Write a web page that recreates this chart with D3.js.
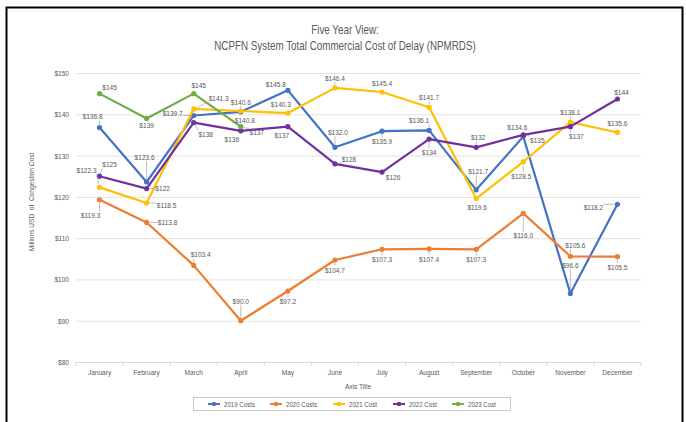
<!DOCTYPE html>
<html>
<head>
<meta charset="utf-8">
<script src="https://cdn.jsdelivr.net/npm/d3@7"></script>
<style>
  body { margin: 0; background: #fff; }
  svg { display: block; }
  text { font-family: "Liberation Sans", Arial, sans-serif; fill: #595959; }
</style>
</head>
<body>
<script>
// chart values
var months = ["January", "February", "March", "April", "May", "June", "July",
              "August", "September", "October", "November", "December"];
var seriesNames = ["2019 Costs", "2020 Costs", "2021 Cost", "2022 Cost", "2023 Cost"];
var costs2019 = [136.8, 123.6, 139.7, 140.6, 145.8, 132.0, 135.9, 136.1, 121.7, 134.6, 96.6, 118.2];
var costs2020 = [119.3, 113.8, 103.4, 90.0, 97.2, 104.7, 107.3, 107.4, 107.3, 116.0, 105.6, 105.5];
var costs2021 = [122.3, 118.5, 141.3, 140.8, 140.3, 146.4, 145.4, 141.7, 119.6, 128.5, 138.1, 135.6];
var costs2022 = [125, 122, 138, 136, 137, 128, 126, 134, 132, 135, 137, 143.7];
var costs2023 = [145, 139, 145, 137];
var yTicks = [80, 90, 100, 110, 120, 130, 140, 150];

var colors = ["#4472C4", "#ED7D31", "#FFC000", "#7030A0", "#70AD47"];
var formats = [".1f", ".1f", ".1f", ".0f", ".0f"];

// where each data label sits relative to its point (dx, dy)
var labelNudge = [
  [[-7,-11],[-2,-25],[-21,-2],[0,-10],[-12,-6],[3,-15],[0,10],[-10,-10],[2,-19],[-6,-9],[0,-28],[-24,3]],
  [[-9,15],[21,0],[7,-11],[0,-20],[0,10],[0,10],[0,10],[0,10],[0,10],[0,22],[5,-11],[0,10]],
  [[-13,-17],[20,2],[25,-11],[4,9],[-7,-9],[0,-10],[0,-9],[0,-10],[1,9],[-2,14],[0,-10],[0,-9]],
  [[10,-12],[16,0],[12,12],[-9,8],[-6,9],[14,-5],[11,5],[0,13],[2,-10],[14,5],[6,10],[4,-7]],
  [[10,-6],[0,7],[5,-8],[16,6]]
];

var allSeries = [costs2019, costs2020, costs2021, costs2022, costs2023];

// Calibri-like look: Liberation Sans squeezed horizontally (same as Arial Narrow)
var NARROW = 0.82;
function addText(parent, x, y, str, size) {
    return parent.append("text")
        .attr("transform", "translate(" + x + "," + y + ") scale(" + NARROW + ",1)")
        .style("font-size", size + "px")
        .text(str);
}

var svg = d3.select("body").append("svg")
    .attr("width", 686)
    .attr("height", 422);

// chart frame
svg.append("rect")
    .attr("x", 6.5).attr("y", 7.5)
    .attr("width", 676).attr("height", 430)
    .attr("fill", "#fff")
    .attr("stroke", "#000")
    .attr("stroke-width", 2);

var x = d3.scaleBand().domain(months).range([76, 641]);
var y = d3.scaleLinear().domain([80, 150]).range([362, 73]);
function cx(i) { return x(months[i]) + x.bandwidth() / 2; }

// title
addText(svg, 345, 34, "Five Year View:", 12).attr("text-anchor", "middle");
addText(svg, 345, 50, "NCPFN System Total Commercial Cost of Delay (NPMRDS)", 12).attr("text-anchor", "middle");

// gridlines + y labels
var yAxis = svg.append("g")
    .attr("transform", "translate(76,0)")
    .call(d3.axisLeft(y).tickValues(yTicks).tickSize(-565).tickFormat(function(d) { return "$" + d; }));
yAxis.select(".domain").remove();
yAxis.selectAll("line").attr("stroke", "#d9d9d9").attr("stroke-width", 0.8);
yAxis.selectAll("text")
    .attr("x", -7 / NARROW)
    .attr("transform", "scale(" + NARROW + ",1)")
    .style("font-size", "8px").attr("fill", "#595959");

// x axis
var xAxis = svg.append("g")
    .attr("transform", "translate(0,362)")
    .call(d3.axisBottom(x).tickSize(0).tickPadding(7));
xAxis.select(".domain").attr("stroke", "#d9d9d9");
xAxis.selectAll("text")
    .attr("transform", "scale(" + NARROW + ",1)")
    .style("font-size", "8px").attr("fill", "#595959");
svg.append("g").selectAll("line")
    .data(d3.range(13))
    .enter().append("line")
    .attr("x1", function(i) { return 76 + i * x.bandwidth(); })
    .attr("x2", function(i) { return 76 + i * x.bandwidth(); })
    .attr("y1", 362).attr("y2", 366)
    .attr("stroke", "#d9d9d9");

addText(svg, 358, 389, "Axis Title", 8).attr("text-anchor", "middle");

svg.append("text")
    .attr("transform", "translate(34,202) rotate(-90) scale(" + NARROW + ",1)")
    .attr("text-anchor", "middle")
    .style("font-size", "8px")
    .style("white-space", "pre")
    .text("Millions USD  of  Congestion Cost");

// lines and markers
var line = d3.line()
    .x(function(d, i) { return cx(i); })
    .y(function(d) { return y(d); });

allSeries.forEach(function(values, s) {
    var g = svg.append("g");
    g.append("path")
        .attr("d", line(values))
        .attr("fill", "none")
        .attr("stroke", colors[s])
        .attr("stroke-width", 2.2)
        .attr("stroke-linejoin", "round");
    g.selectAll("circle")
        .data(values)
        .enter().append("circle")
        .attr("cx", function(d, i) { return cx(i); })
        .attr("cy", function(d) { return y(d); })
        .attr("r", 2.6)
        .attr("fill", colors[s]);
});

// data labels with leader lines
var labels = svg.append("g");
var leaders = svg.append("g");
allSeries.forEach(function(values, s) {
    values.forEach(function(v, i) {
        var px = cx(i), py = y(v);
        var lx = px + labelNudge[s][i][0], ly = py + labelNudge[s][i][1];
        var t = addText(labels, lx, ly, "$" + d3.format(formats[s])(v), 8)
            .attr("dy", "0.35em")
            .attr("text-anchor", "middle");
        var b = t.node().getBBox();
        var bx = lx + b.x * NARROW, bw = b.width * NARROW;
        var by = ly + b.y, bh = b.height;
        var nx = Math.max(bx, Math.min(px, bx + bw));
        var ny = Math.max(by + 1, Math.min(py, by + bh - 1));
        var dist = Math.hypot(px - nx, py - ny);
        if (dist > 6) {
            var k = (dist - 3) / dist;
            leaders.append("line")
                .attr("x1", nx).attr("y1", ny)
                .attr("x2", nx + (px - nx) * k).attr("y2", ny + (py - ny) * k)
                .attr("stroke", "#a6a6a6")
                .attr("stroke-width", 0.75);
        }
    });
});

// legend
var legend = svg.append("g");
legend.append("rect")
    .attr("x", 193.5).attr("y", 397.5)
    .attr("width", 317).attr("height", 13)
    .attr("fill", "none")
    .attr("stroke", "#bfbfbf")
    .attr("stroke-width", 0.8);
var legendX = [208, 270, 333, 393, 452];
seriesNames.forEach(function(name, s) {
    var item = legend.append("g").attr("transform", "translate(" + legendX[s] + ",404)");
    item.append("line")
        .attr("x1", 0).attr("x2", 12)
        .attr("stroke", colors[s]).attr("stroke-width", 2);
    item.append("circle").attr("cx", 6).attr("r", 2.2).attr("fill", colors[s]);
    addText(item, 16, 0, name, 7.5).attr("dy", "0.35em");
});
</script>
</body>
</html>
